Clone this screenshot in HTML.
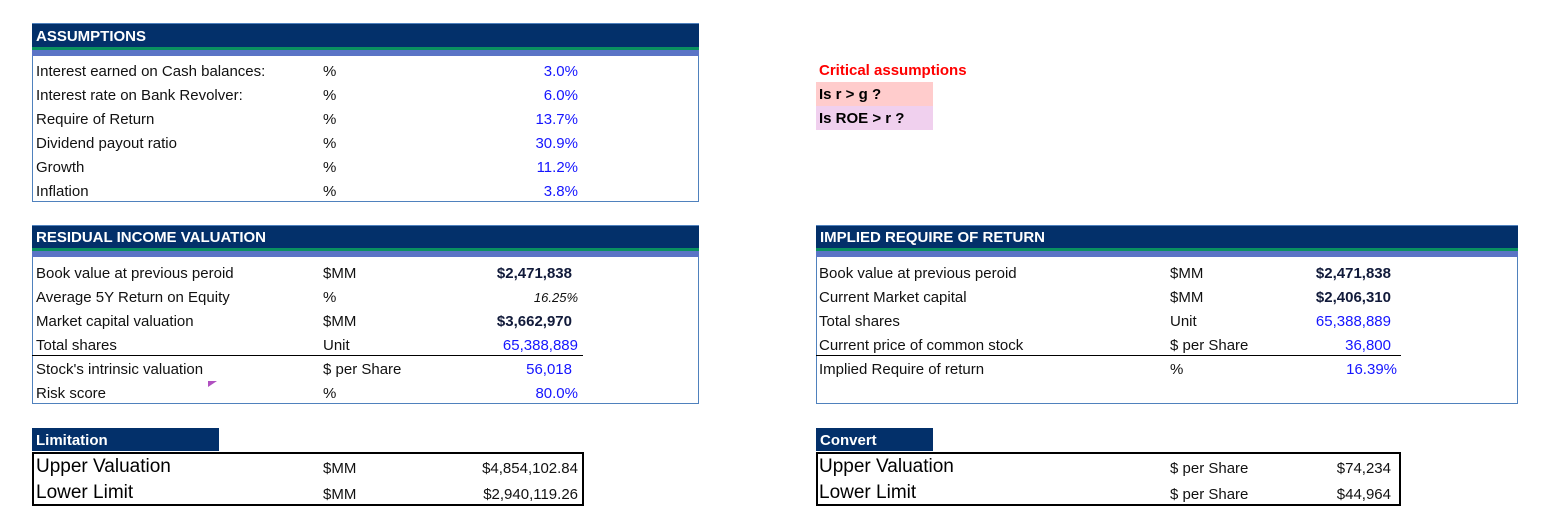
<!DOCTYPE html>
<html><head><meta charset="utf-8"><style>
body{margin:0;width:1542px;height:529px;background:#fff;position:relative;font-family:"Liberation Sans",sans-serif;overflow:hidden}
.a{position:absolute;white-space:nowrap}
.box{position:absolute;border:1px solid #4f81bd;box-sizing:border-box}
.hdr{position:absolute;background:#03306a;color:#fff;font-weight:bold;font-size:15px;box-sizing:border-box;padding-left:4px;padding-top:1px;line-height:23px}
.g{position:absolute;background:#0a9160;height:3px}
.b{position:absolute;background:#5b74c6;height:6px}
.t,.u,.v,.bv{transform:translateY(2px)}
.t{font-size:15px;color:#111;line-height:24px}
.u{font-size:15px;color:#111;line-height:24px}
.v{font-size:15px;color:#1515ff;line-height:24px;text-align:right}
.bv{font-size:15px;color:#111a3a;font-weight:bold;line-height:24px;text-align:right}
</style></head><body>

<!-- ASSUMPTIONS -->
<div class="box" style="left:32px;top:23px;width:667px;height:179px"></div>
<div class="hdr" style="left:32px;top:24px;width:667px;height:23px">ASSUMPTIONS</div>
<div class="g" style="left:32px;top:47px;width:667px"></div>
<div class="b" style="left:32px;top:50px;width:667px"></div>
<div>
<div class="a t" style="left:36px;top:58px">Interest earned on Cash balances:</div><div class="a u" style="left:323px;top:58px">%</div><div class="a v" style="right:964px;top:58px">3.0%</div>
<div class="a t" style="left:36px;top:82px">Interest rate on Bank Revolver:</div><div class="a u" style="left:323px;top:82px">%</div><div class="a v" style="right:964px;top:82px">6.0%</div>
<div class="a t" style="left:36px;top:106px">Require of Return</div><div class="a u" style="left:323px;top:106px">%</div><div class="a v" style="right:964px;top:106px">13.7%</div>
<div class="a t" style="left:36px;top:130px">Dividend payout ratio</div><div class="a u" style="left:323px;top:130px">%</div><div class="a v" style="right:964px;top:130px">30.9%</div>
<div class="a t" style="left:36px;top:154px">Growth</div><div class="a u" style="left:323px;top:154px">%</div><div class="a v" style="right:964px;top:154px">11.2%</div>
<div class="a t" style="left:36px;top:178px">Inflation</div><div class="a u" style="left:323px;top:178px">%</div><div class="a v" style="right:964px;top:178px">3.8%</div>
</div>

<!-- Critical -->
<div class="a" style="left:819px;top:62px;font-size:15px;font-weight:bold;color:#ff0000">Critical assumptions</div>
<div class="a" style="left:816px;top:82px;width:117px;height:24px;background:#ffcccc;font-size:15px;font-weight:bold;line-height:26px;padding-left:3px;box-sizing:border-box">Is r &gt; g ?</div>
<div class="a" style="left:816px;top:106px;width:117px;height:24px;background:#f0d0ee;font-size:15px;font-weight:bold;line-height:26px;padding-left:3px;box-sizing:border-box">Is ROE &gt; r ?</div>

<!-- RESIDUAL -->
<div class="box" style="left:32px;top:225px;width:667px;height:179px"></div>
<div class="hdr" style="left:32px;top:226px;width:667px;height:22px;line-height:22px">RESIDUAL INCOME VALUATION</div>
<div class="g" style="left:32px;top:248px;width:667px"></div>
<div class="b" style="left:32px;top:251px;width:667px"></div>
<div class="a t" style="left:36px;top:260px">Book value at previous peroid</div><div class="a u" style="left:323px;top:260px">$MM</div><div class="a bv" style="right:970px;top:260px">$2,471,838</div>
<div class="a t" style="left:36px;top:284px">Average 5Y Return on Equity</div><div class="a u" style="left:323px;top:284px">%</div><div class="a t" style="right:964px;top:284px;font-size:13px;font-style:italic">16.25%</div>
<div class="a t" style="left:36px;top:308px">Market capital valuation</div><div class="a u" style="left:323px;top:308px">$MM</div><div class="a bv" style="right:970px;top:308px">$3,662,970</div>
<div class="a t" style="left:36px;top:332px">Total shares</div><div class="a u" style="left:323px;top:332px">Unit</div><div class="a v" style="right:964px;top:332px">65,388,889</div>
<div class="a" style="left:32px;top:355px;width:551px;height:1px;background:#000"></div>
<div class="a t" style="left:36px;top:356px">Stock's intrinsic valuation</div><div class="a u" style="left:323px;top:356px">$ per Share</div><div class="a v" style="right:970px;top:356px">56,018</div>
<div class="a" style="left:208px;top:381px;width:0;height:0;border-left:9px solid #b050c0;border-bottom:6px solid transparent"></div>
<div class="a t" style="left:36px;top:380px">Risk score</div><div class="a u" style="left:323px;top:380px">%</div><div class="a v" style="right:964px;top:380px">80.0%</div>

<!-- IMPLIED -->
<div class="box" style="left:816px;top:225px;width:702px;height:179px"></div>
<div class="hdr" style="left:816px;top:226px;width:702px;height:22px;line-height:22px">IMPLIED REQUIRE OF RETURN</div>
<div class="g" style="left:816px;top:248px;width:702px"></div>
<div class="b" style="left:816px;top:251px;width:702px"></div>
<div class="a t" style="left:819px;top:260px">Book value at previous peroid</div><div class="a u" style="left:1170px;top:260px">$MM</div><div class="a bv" style="right:151px;top:260px">$2,471,838</div>
<div class="a t" style="left:819px;top:284px">Current Market capital</div><div class="a u" style="left:1170px;top:284px">$MM</div><div class="a bv" style="right:151px;top:284px">$2,406,310</div>
<div class="a t" style="left:819px;top:308px">Total shares</div><div class="a u" style="left:1170px;top:308px">Unit</div><div class="a v" style="right:151px;top:308px">65,388,889</div>
<div class="a t" style="left:819px;top:332px">Current price of common stock</div><div class="a u" style="left:1170px;top:332px">$ per Share</div><div class="a v" style="right:151px;top:332px">36,800</div>
<div class="a" style="left:816px;top:355px;width:585px;height:1px;background:#000"></div>
<div class="a t" style="left:819px;top:356px">Implied Require of return</div><div class="a u" style="left:1170px;top:356px">%</div><div class="a v" style="right:145px;top:356px">16.39%</div>

<!-- Limitation -->
<div class="hdr" style="left:32px;top:428px;width:187px;height:23px;line-height:23px">Limitation</div>
<div class="a" style="left:32px;top:452px;width:552px;height:54px;border:2px solid #000;box-sizing:border-box"></div>
<div class="a" style="left:36px;top:454px;font-size:19px;line-height:25px">Upper Valuation</div><div class="a u" style="left:323px;top:455px">$MM</div><div class="a t" style="right:964px;top:455px">$4,854,102.84</div>
<div class="a" style="left:36px;top:480px;font-size:19px;line-height:25px">Lower Limit</div><div class="a u" style="left:323px;top:481px">$MM</div><div class="a t" style="right:964px;top:481px">$2,940,119.26</div>

<!-- Convert -->
<div class="hdr" style="left:816px;top:428px;width:117px;height:23px;line-height:23px">Convert</div>
<div class="a" style="left:816px;top:452px;width:585px;height:54px;border:2px solid #000;box-sizing:border-box"></div>
<div class="a" style="left:819px;top:454px;font-size:19px;line-height:25px">Upper Valuation</div><div class="a u" style="left:1170px;top:455px">$ per Share</div><div class="a t" style="right:151px;top:455px">$74,234</div>
<div class="a" style="left:819px;top:480px;font-size:19px;line-height:25px">Lower Limit</div><div class="a u" style="left:1170px;top:481px">$ per Share</div><div class="a t" style="right:151px;top:481px">$44,964</div>
</body></html>
